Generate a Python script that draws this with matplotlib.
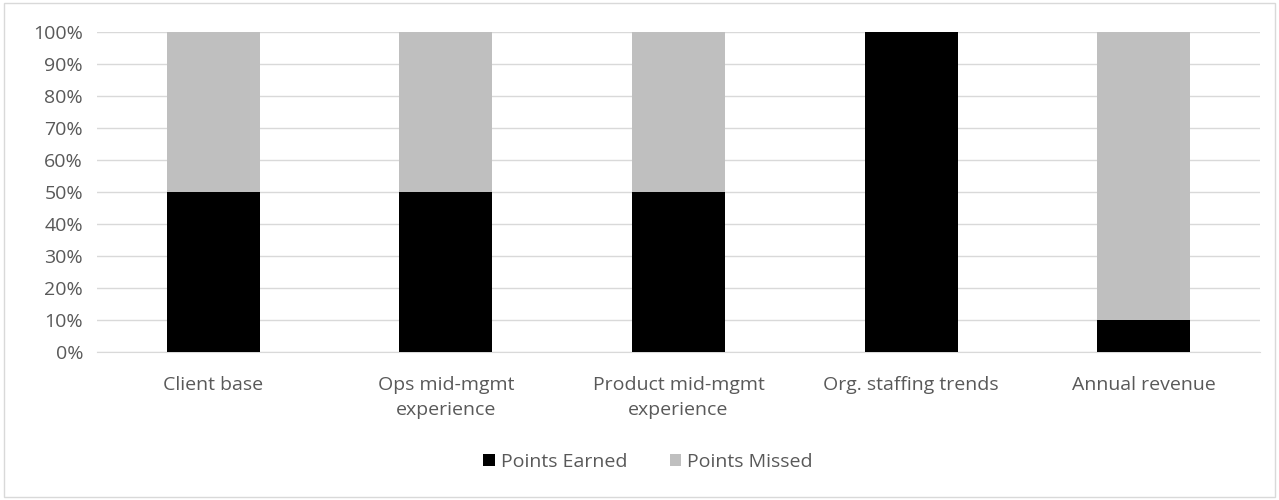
import matplotlib.pyplot as plt
import matplotlib.ticker as ticker
import numpy as np
from matplotlib.patches import Rectangle

categories = ["Client base", "Ops mid-mgmt\nexperience", "Product mid-mgmt\nexperience",
              "Org. staffing trends", "Annual revenue"]
earned = [50, 50, 50, 100, 10]
missed = [50, 50, 50, 0, 90]

TEXT = "#595959"
plt.rcParams["font.family"] = ["Open Sans", "DejaVu Sans"]
FS = 14

fig = plt.figure(figsize=(12.79, 5.0), dpi=100)
fig.patches.append(Rectangle((4 / 1279, 3 / 500), 1 - 8 / 1279, 1 - 6 / 500,
                             transform=fig.transFigure, fill=False,
                             edgecolor="#d9d9d9", linewidth=1))
ax = fig.add_axes([97 / 1279, 1 - 352 / 500, (1260 - 97) / 1279, 320 / 500])

x = np.arange(len(categories))
ax.bar(x, earned, width=0.4, color="#000000", label="Points Earned", zorder=3)
ax.bar(x, missed, width=0.4, bottom=earned, color="#bfbfbf", label="Points Missed", zorder=3)

ax.set_xlim(-0.5, len(categories) - 0.5)
ax.set_ylim(0, 100)
ax.set_yticks(np.arange(0, 101, 10))
ax.yaxis.set_major_formatter(ticker.FuncFormatter(lambda v, _: f"{v:.0f}%"))
ax.set_xticks(x)
ax.set_xticklabels(categories, color=TEXT, fontsize=FS, linespacing=1.55)
ax.tick_params(axis="y", colors=TEXT, labelsize=FS, length=0, pad=10)
ax.tick_params(axis="x", length=0, pad=17)
ax.grid(True, axis="y", color="#d9d9d9", linewidth=1, zorder=0)
for s in ["top", "right", "left"]:
    ax.spines[s].set_visible(False)
ax.spines["bottom"].set_color("#d9d9d9")

leg = fig.legend(loc="center", bbox_to_anchor=(648 / 1279, 1 - 462 / 500), ncol=2,
                 frameon=False, fontsize=FS, handlelength=0.6, handleheight=0.6,
                 columnspacing=2.2, handletextpad=0.3)
for t in leg.get_texts():
    t.set_color(TEXT)

fig.savefig("out.png", dpi=100)
